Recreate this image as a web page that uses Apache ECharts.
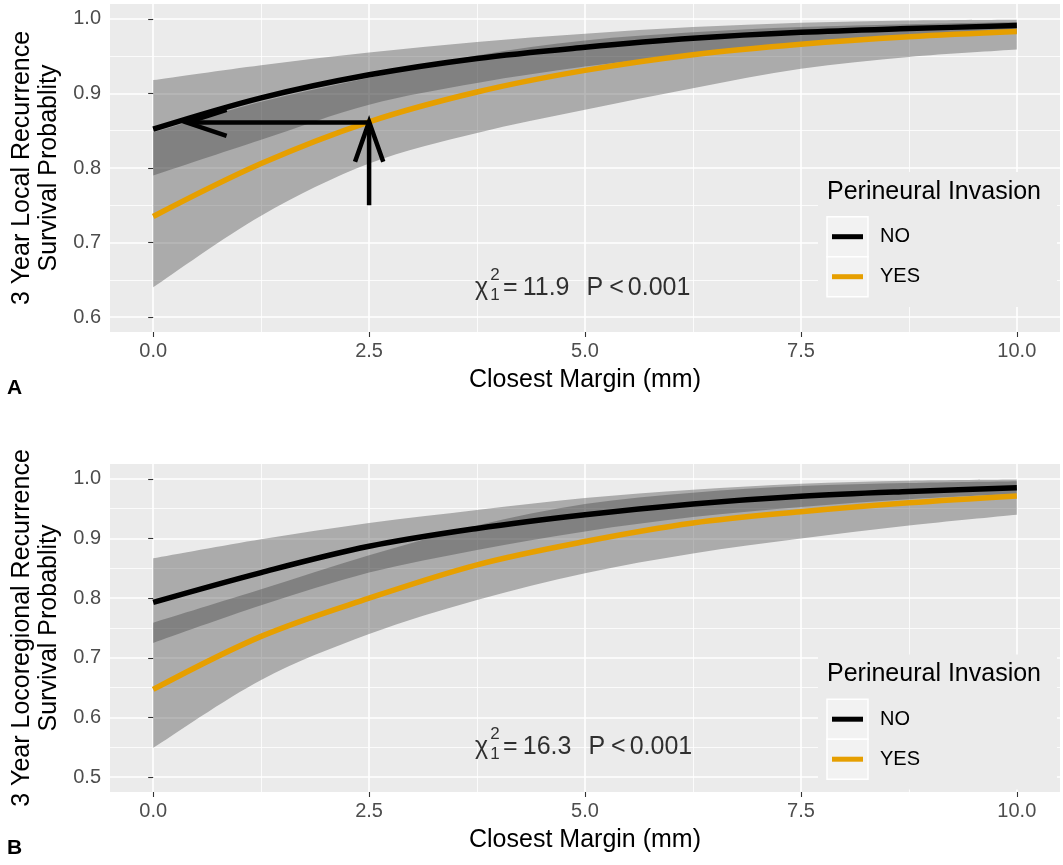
<!DOCTYPE html>
<html><head><meta charset="utf-8">
<script src="https://cdn.jsdelivr.net/npm/echarts@6/dist/echarts.min.js"></script>
<style>html,body{margin:0;padding:0;background:#fff}#c{width:1063px;height:865px}</style>
</head><body><div id="c"></div>
<script>
// ---------- data ----------
const xs = [0, 1.25, 2.5, 3.75, 5, 6.25, 7.5, 8.75, 10];
const xTicks = [0, 2.5, 5, 7.5, 10];
const xMinor = [1.25, 3.75, 6.25, 8.75];
const xTickLabels = ['0.0', '2.5', '5.0', '7.5', '10.0'];
const aYTicks = [0.6, 0.7, 0.8, 0.9, 1.0];
const aYMinor = [0.65, 0.75, 0.85, 0.95];
const bYTicks = [0.5, 0.6, 0.7, 0.8, 0.9, 1.0];
const bYMinor = [0.55, 0.65, 0.75, 0.85, 0.95];
const groups = ['NO', 'YES'];

// Panel A: 3 Year Local Recurrence Survival
const aNoFit   = [0.852, 0.894, 0.925, 0.947, 0.962, 0.974, 0.982, 0.987, 0.991];
const aNoUpper = [0.918, 0.938, 0.955, 0.969, 0.980, 0.989, 0.995, 0.998, 0.999];
const aNoLower = [0.790, 0.838, 0.885, 0.914, 0.936, 0.953, 0.966, 0.975, 0.981];
const aYesFit   = [0.735, 0.806, 0.862, 0.902, 0.931, 0.952, 0.966, 0.976, 0.983];
const aYesUpper = [0.848, 0.889, 0.921, 0.951, 0.971, 0.982, 0.989, 0.993, 0.996];
const aYesLower = [0.640, 0.736, 0.806, 0.847, 0.878, 0.907, 0.933, 0.949, 0.959];

// Panel B: 3 Year Locoregional Recurrence Survival
const bNoFit   = [0.793, 0.843, 0.887, 0.917, 0.940, 0.958, 0.971, 0.979, 0.985];
const bNoUpper = [0.867, 0.899, 0.926, 0.948, 0.968, 0.982, 0.992, 0.997, 0.999];
const bNoLower = [0.725, 0.788, 0.843, 0.881, 0.912, 0.936, 0.953, 0.966, 0.975];
const bYesFit   = [0.647, 0.736, 0.800, 0.856, 0.895, 0.926, 0.945, 0.960, 0.9715];
const bYesUpper = [0.759, 0.815, 0.872, 0.922, 0.958, 0.977, 0.988, 0.993, 0.996];
const bYesLower = [0.549, 0.663, 0.740, 0.797, 0.842, 0.875, 0.900, 0.922, 0.940];

// Arrow annotation (panel A), data units
const arrowHShaft = [[2.5, 0.861], [0.40, 0.861]];
const arrowHHead  = [[0.85, 0.878], [0.39, 0.861], [0.85, 0.843]];
const arrowVShaft = [[2.5, 0.750], [2.5, 0.860]];
const arrowVHead  = [[2.337, 0.8085], [2.5, 0.862], [2.664, 0.8085]];

// Statistic annotations
const aStat = {x: 5, y: 0.6385, chi: '11.9', p: '0.001'};
const bStat = {x: 5, y: 0.550, chi: '16.3', p: '0.001'};

const aYTitle = '3 Year Local Recurrence\nSurvival Probablity';
const bYTitle = '3 Year Locoregional Recurrence\nSurvival Probablity';
const xTitle = 'Closest Margin (mm)';
const legendTitle = 'Perineural Invasion';

// ---------- build ----------
const FONT = 'Liberation Sans, Arial, Helvetica, sans-serif';
const colors = {NO: '#000000', YES: '#E69F00'};
const bandFill = 'rgba(51,51,51,0.35)';
const zip = (x, y) => x.map((v, i) => [v, y[i]]);
const lbl = (vals, labels) => v => { const i = vals.findIndex(t => Math.abs(t - v) < 1e-9); return i >= 0 ? labels[i] : ''; };

function xAxes(gi) {
  return [{
    type: 'value', gridIndex: gi, min: -0.5, max: 10.5, position: 'bottom',
    axisLine: {show: false},
    axisTick: {show: true, length: 5, lineStyle: {color: '#333333', width: 1.1}, customValues: xTicks},
    axisLabel: {customValues: xTicks, formatter: lbl(xTicks, xTickLabels), fontSize: 20, color: '#4D4D4D', margin: 9, lineHeight: 20, fontFamily: FONT},
    splitLine: {show: true, lineStyle: {color: '#FFFFFF', width: 1.6}},
    name: xTitle, nameLocation: 'middle', nameGap: 36,
    nameTextStyle: {fontSize: 25, color: '#000', lineHeight: 25, fontFamily: FONT}
  }, {
    type: 'value', gridIndex: gi, min: -0.5, max: 10.5, position: 'top',
    axisLine: {show: false},
    axisTick: {show: false, customValues: xMinor},
    axisLabel: {show: false, customValues: xMinor},
    splitLine: {show: true, lineStyle: {color: '#FFFFFF', width: 0.8}}
  }];
}
function yAxes(gi, min, max, major, minor, title) {
  return [{
    type: 'value', gridIndex: gi, min: min, max: max, position: 'left',
    axisLine: {show: false},
    axisTick: {show: true, length: 5, lineStyle: {color: '#333333', width: 1.1}, customValues: major},
    axisLabel: {customValues: major, formatter: v => v.toFixed(1), fontSize: 20, color: '#4D4D4D', margin: 9, fontFamily: FONT},
    splitLine: {show: true, lineStyle: {color: '#FFFFFF', width: 1.6}},
    name: title, nameLocation: 'middle', nameRotate: 90, nameGap: 43,
    nameTextStyle: {fontSize: 25, color: '#000', lineHeight: 27, fontFamily: FONT, align: 'center'}
  }, {
    type: 'value', gridIndex: gi, min: min, max: max, position: 'right',
    axisLine: {show: false},
    axisTick: {show: false, customValues: minor},
    axisLabel: {show: false, customValues: minor},
    splitLine: {show: true, lineStyle: {color: '#FFFFFF', width: 0.8}}
  }];
}

// smooth curve (Catmull-Rom) through pixel points obtained from the axes
function curveThrough(pts, start) {
  let d = start ? 'M' + pts[0][0] + ' ' + pts[0][1] : 'L' + pts[0][0] + ' ' + pts[0][1];
  for (let i = 0; i < pts.length - 1; i++) {
    const p0 = pts[i - 1] || pts[i], p1 = pts[i], p2 = pts[i + 1], p3 = pts[i + 2] || pts[i + 1];
    const c1 = [p1[0] + (p2[0] - p0[0]) / 6, p1[1] + (p2[1] - p0[1]) / 6];
    const c2 = [p2[0] - (p3[0] - p1[0]) / 6, p2[1] - (p3[1] - p1[1]) / 6];
    d += ' C' + c1[0] + ' ' + c1[1] + ' ' + c2[0] + ' ' + c2[1] + ' ' + p2[0] + ' ' + p2[1];
  }
  return d;
}
function bandSeries(xi, yi, lower, upper) {
  return {
    type: 'custom', xAxisIndex: xi, yAxisIndex: yi, silent: true, z: 2,
    data: xs.map((x, i) => [x, lower[i], upper[i]]),
    encode: {x: 0, y: [1, 2]},
    renderItem: function (params, api) {
      if (params.dataIndex !== 0) return null;
      const up = xs.map((x, i) => api.coord([x, upper[i]]));
      const lo = xs.map((x, i) => api.coord([x, lower[i]])).reverse();
      const d = curveThrough(up, true) + ' ' + curveThrough(lo, false) + ' Z';
      return {type: 'path', shape: {pathData: d}, style: {fill: bandFill, stroke: null}};
    }
  };
}
function fitSeries(xi, yi, name, fit) {
  return {
    type: 'line', name: name, xAxisIndex: xi, yAxisIndex: yi, data: zip(xs, fit),
    smooth: 0.35, symbol: 'none', showSymbol: false, silent: true,
    lineStyle: {color: colors[name], width: 5.5}, itemStyle: {color: colors[name]}, z: 3
  };
}
function arrowSeries(data) {
  return {
    type: 'line', xAxisIndex: 0, yAxisIndex: 0, data: data, symbol: 'none', silent: true,
    lineStyle: {color: '#000', width: 4.5, cap: 'butt', join: 'miter'}, z: 4
  };
}
function statSeries(xi, yi, s) {
  const base = {fontSize: 25, fontFamily: FONT, color: '#000'};
  return {
    type: 'scatter', xAxisIndex: xi, yAxisIndex: yi, symbolSize: 1, silent: true,
    itemStyle: {color: 'transparent'}, z: 5,
    data: [{
      value: [s.x, s.y],
      label: {
        show: true, position: 'inside', align: 'left', verticalAlign: 'middle', offset: [-110, 0],
        formatter: '{c|χ}{g| }{e|=}{n|' + s.chi + '}{p|P}{l|<}{v|' + s.p + '}',
        rich: {
          c: Object.assign({}, base),
          g: Object.assign({}, base, {width: 15}),
          e: Object.assign({}, base),
          n: Object.assign({}, base, {padding: [0, 0, 0, 5]}),
          p: Object.assign({}, base, {padding: [0, 0, 0, 17]}),
          l: Object.assign({}, base, {padding: [0, 0, 0, 6]}),
          v: Object.assign({}, base, {padding: [0, 0, 0, 4]})
        }
      }
    }, {
      value: [s.x, s.y],
      label: {
        show: true, position: 'inside', align: 'center', verticalAlign: 'middle', offset: [-90, -3],
        formatter: '{s|2}\n{s|1}',
        rich: {s: {fontSize: 17, lineHeight: 20, fontFamily: FONT, color: '#000'}}
      }
    }]
  };
}
function legendCfg(top) {
  return {
    orient: 'vertical', left: 832, top: top, padding: 0, itemWidth: 31, itemHeight: 5, itemGap: 20,
    icon: 'rect', selectedMode: false, data: groups,
    textStyle: {fontSize: 20, color: '#000', lineHeight: 20, fontFamily: FONT, padding: [0, 0, 0, 12]}
  };
}
function legendGraphics(dy) {
  return [
    {type: 'rect', shape: {x: 818, y: 172 + dy, width: 239, height: 135}, style: {fill: '#EBEBEB'}, z: 3},
    {type: 'rect', shape: {x: 827, y: 216.7 + dy, width: 41, height: 40}, style: {fill: '#F2F2F2', stroke: '#FFFFFF', lineWidth: 1.5}, z: 3},
    {type: 'rect', shape: {x: 827, y: 256.7 + dy, width: 41, height: 40}, style: {fill: '#F2F2F2', stroke: '#FFFFFF', lineWidth: 1.5}, z: 3},
    {type: 'text', x: 827, y: 192 + dy, z: 4, style: {text: legendTitle, fontSize: 25, fontFamily: FONT, fill: '#000', align: 'left', verticalAlign: 'middle'}}
  ];
}

const option = {
  animation: false,
  textStyle: {fontFamily: FONT},
  grid: [
    {left: 110, top: 4, width: 950, height: 328, show: true, backgroundColor: '#EBEBEB', borderWidth: 0, outerBoundsMode: 'none'},
    {left: 110, top: 464, width: 950, height: 328, show: true, backgroundColor: '#EBEBEB', borderWidth: 0, outerBoundsMode: 'none'}
  ],
  xAxis: [...xAxes(0), ...xAxes(1)],
  yAxis: [...yAxes(0, 0.58, 1.02, aYTicks, aYMinor, aYTitle), ...yAxes(1, 0.475, 1.025, bYTicks, bYMinor, bYTitle)],
  legend: [legendCfg(226.7), legendCfg(709.2)],
  graphic: [
    ...legendGraphics(0), ...legendGraphics(482.5),
    {type: 'text', x: 7, y: 388, style: {text: 'A', fontSize: 21, fontWeight: 'bold', fontFamily: FONT, fill: '#000', verticalAlign: 'middle'}},
    {type: 'text', x: 7, y: 848, style: {text: 'B', fontSize: 21, fontWeight: 'bold', fontFamily: FONT, fill: '#000', verticalAlign: 'middle'}}
  ],
  series: [
    bandSeries(0, 0, aNoLower, aNoUpper),
    bandSeries(0, 0, aYesLower, aYesUpper),
    fitSeries(0, 0, 'NO', aNoFit),
    fitSeries(0, 0, 'YES', aYesFit),
    arrowSeries(arrowHShaft), arrowSeries(arrowHHead), arrowSeries(arrowVShaft), arrowSeries(arrowVHead),
    statSeries(0, 0, aStat),
    bandSeries(2, 2, bNoLower, bNoUpper),
    bandSeries(2, 2, bYesLower, bYesUpper),
    fitSeries(2, 2, 'NO', bNoFit),
    fitSeries(2, 2, 'YES', bYesFit),
    statSeries(2, 2, bStat)
  ]
};
const chart = echarts.init(document.getElementById('c'), null, {renderer: 'canvas'});
chart.setOption(option);
</script></body></html>
